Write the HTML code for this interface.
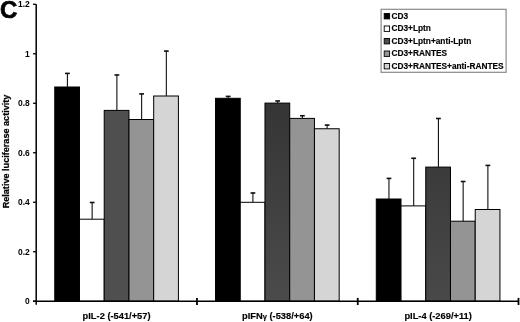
<!DOCTYPE html>
<html><head><meta charset="utf-8"><style>
html,body{margin:0;padding:0;background:#fff;}
svg{display:block;will-change:transform;}
text{font-family:"Liberation Sans",sans-serif;font-weight:bold;fill:#000;}
.t{font-size:9.4px;}
.xl{font-size:9.3px;stroke:#000;stroke-width:0.15px;}
.yt{font-size:9.1px;stroke:#000;stroke-width:0.25px;}
.lg{font-size:8.3px;stroke:#000;stroke-width:0.15px;}
.C{font-size:24px;stroke:#000;stroke-width:0.7px;}
</style></head><body>
<svg width="520" height="322" viewBox="0 0 520 322">
<defs><linearGradient id="g2" x1="0" y1="0" x2="0" y2="1"><stop offset="0" stop-color="#353535"/><stop offset="1" stop-color="#4b4b4b"/></linearGradient><linearGradient id="g3" x1="0" y1="0" x2="0" y2="1"><stop offset="0" stop-color="#3b3b3b"/><stop offset="1" stop-color="#494949"/></linearGradient></defs>
<rect x="54.75" y="87.00" width="24.73" height="214.20" fill="#000" stroke="#000" stroke-width="1"/>
<rect x="79.48" y="219.20" width="24.73" height="82.00" fill="#fff" stroke="#000" stroke-width="1"/>
<rect x="104.22" y="110.40" width="24.73" height="190.80" fill="#4f4f4f" stroke="#000" stroke-width="1"/>
<rect x="128.95" y="119.50" width="24.73" height="181.70" fill="#949494" stroke="#000" stroke-width="1"/>
<rect x="153.68" y="96.00" width="24.73" height="205.20" fill="#d5d5d5" stroke="#000" stroke-width="1"/>
<rect x="215.52" y="98.30" width="24.73" height="202.90" fill="#000" stroke="#000" stroke-width="1"/>
<rect x="240.25" y="202.30" width="24.73" height="98.90" fill="#fff" stroke="#000" stroke-width="1"/>
<rect x="264.98" y="103.10" width="24.73" height="198.10" fill="url(#g2)" stroke="#000" stroke-width="1"/>
<rect x="289.72" y="118.40" width="24.73" height="182.80" fill="#949494" stroke="#000" stroke-width="1"/>
<rect x="314.45" y="128.75" width="24.73" height="172.45" fill="#d5d5d5" stroke="#000" stroke-width="1"/>
<rect x="376.28" y="199.00" width="24.73" height="102.20" fill="#000" stroke="#000" stroke-width="1"/>
<rect x="401.02" y="205.90" width="24.73" height="95.30" fill="#fff" stroke="#000" stroke-width="1"/>
<rect x="425.75" y="167.10" width="24.73" height="134.10" fill="url(#g3)" stroke="#000" stroke-width="1"/>
<rect x="450.48" y="221.20" width="24.73" height="80.00" fill="#949494" stroke="#000" stroke-width="1"/>
<rect x="475.22" y="209.50" width="24.73" height="91.70" fill="#d5d5d5" stroke="#000" stroke-width="1"/>
<line x1="67.42" y1="87.00" x2="67.42" y2="72.90" stroke="#111" stroke-width="1.1"/>
<line x1="65.02" y1="73.40" x2="69.82" y2="73.40" stroke="#111" stroke-width="1.6"/>
<line x1="92.15" y1="219.20" x2="92.15" y2="202.00" stroke="#111" stroke-width="1.1"/>
<line x1="89.75" y1="202.50" x2="94.55" y2="202.50" stroke="#111" stroke-width="1.6"/>
<line x1="116.88" y1="110.40" x2="116.88" y2="74.50" stroke="#111" stroke-width="1.1"/>
<line x1="114.48" y1="75.00" x2="119.28" y2="75.00" stroke="#111" stroke-width="1.6"/>
<line x1="141.62" y1="119.50" x2="141.62" y2="93.40" stroke="#111" stroke-width="1.1"/>
<line x1="139.22" y1="93.90" x2="144.02" y2="93.90" stroke="#111" stroke-width="1.6"/>
<line x1="166.35" y1="96.00" x2="166.35" y2="50.60" stroke="#111" stroke-width="1.1"/>
<line x1="163.95" y1="51.10" x2="168.75" y2="51.10" stroke="#111" stroke-width="1.6"/>
<line x1="228.18" y1="98.30" x2="228.18" y2="95.90" stroke="#111" stroke-width="1.1"/>
<line x1="225.78" y1="96.40" x2="230.58" y2="96.40" stroke="#111" stroke-width="1.6"/>
<line x1="252.92" y1="202.30" x2="252.92" y2="192.50" stroke="#111" stroke-width="1.1"/>
<line x1="250.52" y1="193.00" x2="255.32" y2="193.00" stroke="#111" stroke-width="1.6"/>
<line x1="277.65" y1="103.10" x2="277.65" y2="100.50" stroke="#111" stroke-width="1.1"/>
<line x1="275.25" y1="101.00" x2="280.05" y2="101.00" stroke="#111" stroke-width="1.6"/>
<line x1="302.38" y1="118.40" x2="302.38" y2="115.25" stroke="#111" stroke-width="1.1"/>
<line x1="299.98" y1="115.75" x2="304.78" y2="115.75" stroke="#111" stroke-width="1.6"/>
<line x1="327.12" y1="128.75" x2="327.12" y2="124.60" stroke="#111" stroke-width="1.1"/>
<line x1="324.72" y1="125.10" x2="329.52" y2="125.10" stroke="#111" stroke-width="1.6"/>
<line x1="388.95" y1="199.00" x2="388.95" y2="177.90" stroke="#111" stroke-width="1.1"/>
<line x1="386.55" y1="178.40" x2="391.35" y2="178.40" stroke="#111" stroke-width="1.6"/>
<line x1="413.68" y1="205.90" x2="413.68" y2="157.80" stroke="#111" stroke-width="1.1"/>
<line x1="411.28" y1="158.30" x2="416.08" y2="158.30" stroke="#111" stroke-width="1.6"/>
<line x1="438.42" y1="167.10" x2="438.42" y2="118.00" stroke="#111" stroke-width="1.1"/>
<line x1="436.02" y1="118.50" x2="440.82" y2="118.50" stroke="#111" stroke-width="1.6"/>
<line x1="463.15" y1="221.20" x2="463.15" y2="181.00" stroke="#111" stroke-width="1.1"/>
<line x1="460.75" y1="181.50" x2="465.55" y2="181.50" stroke="#111" stroke-width="1.6"/>
<line x1="487.88" y1="209.50" x2="487.88" y2="164.90" stroke="#111" stroke-width="1.1"/>
<line x1="485.48" y1="165.40" x2="490.28" y2="165.40" stroke="#111" stroke-width="1.6"/>
<line x1="36.2" y1="4.3" x2="36.2" y2="304.7" stroke="#000" stroke-width="1.5"/>
<line x1="33.0" y1="301.2" x2="518.5" y2="301.2" stroke="#000" stroke-width="1.5"/>
<line x1="33.0" y1="301.20" x2="36.2" y2="301.20" stroke="#000" stroke-width="1.3"/>
<text transform="translate(29.7,304.40) scale(0.9,1)" text-anchor="end" class="t">0</text>
<line x1="33.0" y1="251.72" x2="36.2" y2="251.72" stroke="#000" stroke-width="1.3"/>
<text transform="translate(29.7,254.92) scale(0.9,1)" text-anchor="end" class="t">0.2</text>
<line x1="33.0" y1="202.23" x2="36.2" y2="202.23" stroke="#000" stroke-width="1.3"/>
<text transform="translate(29.7,205.43) scale(0.9,1)" text-anchor="end" class="t">0.4</text>
<line x1="33.0" y1="152.75" x2="36.2" y2="152.75" stroke="#000" stroke-width="1.3"/>
<text transform="translate(29.7,155.95) scale(0.9,1)" text-anchor="end" class="t">0.6</text>
<line x1="33.0" y1="103.27" x2="36.2" y2="103.27" stroke="#000" stroke-width="1.3"/>
<text transform="translate(29.7,106.47) scale(0.9,1)" text-anchor="end" class="t">0.8</text>
<line x1="33.0" y1="53.78" x2="36.2" y2="53.78" stroke="#000" stroke-width="1.3"/>
<text transform="translate(29.7,56.98) scale(0.9,1)" text-anchor="end" class="t">1</text>
<line x1="33.0" y1="4.30" x2="36.2" y2="4.30" stroke="#000" stroke-width="1.3"/>
<text transform="translate(29.7,6.80) scale(0.9,1)" text-anchor="end" class="t">1.2</text>
<line x1="196.97" y1="297.9" x2="196.97" y2="305.0" stroke="#000" stroke-width="1.8"/>
<line x1="357.73" y1="297.9" x2="357.73" y2="305.0" stroke="#000" stroke-width="1.8"/>
<line x1="518.50" y1="297.9" x2="518.50" y2="305.0" stroke="#000" stroke-width="1.8"/>
<text x="116.58" y="318.7" text-anchor="middle" class="xl">pIL-2 (-541/+57)</text>
<text x="277.35" y="318.7" text-anchor="middle" class="xl">pIFN<tspan style="font-size:7.6px">&#947;</tspan> (-538/+64)</text>
<text x="438.12" y="318.7" text-anchor="middle" class="xl">pIL-4 (-269/+11)</text>
<text transform="translate(9.2,151.5) rotate(-90)" text-anchor="middle" class="yt">Relative luciferase activity</text>
<text x="0" y="17.9" class="C">C</text>
<rect x="381.1" y="9.3" width="125" height="63" fill="#fff" stroke="#8a8a8a" stroke-width="1.2"/>
<rect x="384.2" y="13.50" width="5.4" height="5.4" fill="#000" stroke="#000" stroke-width="0.9"/>
<text x="391.5" y="18.80" class="lg">CD3</text>
<rect x="384.2" y="26.00" width="5.4" height="5.4" fill="#fff" stroke="#000" stroke-width="0.9"/>
<text x="391.5" y="31.30" class="lg">CD3+Lptn</text>
<rect x="384.2" y="38.50" width="5.4" height="5.4" fill="#4c4c4c" stroke="#000" stroke-width="0.9"/>
<text x="391.5" y="43.80" class="lg">CD3+Lptn+anti-Lptn</text>
<rect x="384.2" y="51.00" width="5.4" height="5.4" fill="#949494" stroke="#000" stroke-width="0.9"/>
<text x="391.5" y="56.30" class="lg">CD3+RANTES</text>
<rect x="384.2" y="63.50" width="5.4" height="5.4" fill="#d5d5d5" stroke="#000" stroke-width="0.9"/>
<text x="391.5" y="68.80" class="lg">CD3+RANTES+anti-RANTES</text>
</svg>
</body></html>
